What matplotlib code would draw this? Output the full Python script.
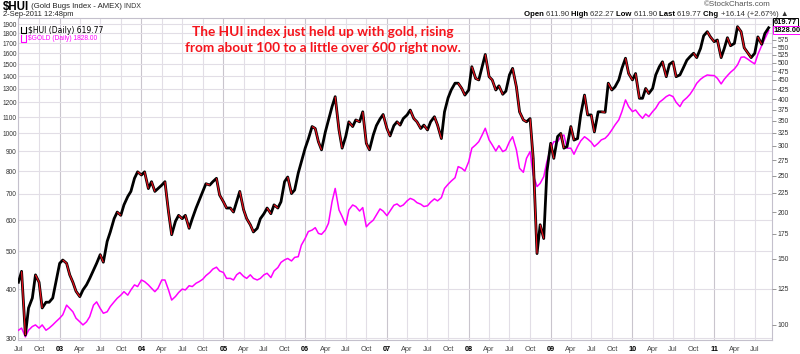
import matplotlib
matplotlib.use("Agg")
import matplotlib.pyplot as plt
import matplotlib.dates as mdates
from matplotlib.collections import LineCollection
from matplotlib.text import Annotation
from matplotlib.ticker import FixedLocator, NullLocator, NullFormatter
import pandas as pd

# ---------------- data (semi-monthly readings, Jul 2002 - Sep 2011) ----------------
start_date = "2002-07-01"
hui = [130, 139, 94, 111, 118, 136, 130, 111, 115, 115, 118, 130, 146, 149, 146, 136, 130, 123, 119, 124,
       128, 133, 140, 146, 154, 147, 167, 177, 192, 200, 196, 209, 220, 227, 246, 256, 251, 256,
       231, 241, 227, 231, 236, 241, 200, 174, 189, 196, 192, 196, 181, 192, 205, 215, 227, 238, 236,
       241, 246, 222, 213, 205, 205, 200, 213, 227, 203, 192, 185, 177, 181, 192, 198, 205, 198,
       209, 205, 213, 241, 248, 224, 229, 254, 272, 296, 313, 338, 334, 308, 293, 327, 352, 382, 406,
       331, 296, 318, 348, 338, 352, 348, 370, 305, 293, 321, 340, 354, 364, 334, 319, 340,
       348, 341, 355, 363, 374, 355, 348, 334, 341, 331, 348, 359, 341, 314, 370, 403, 423, 441, 441,
       427, 410, 423, 488, 454, 450, 488, 526, 459, 450, 423, 434, 412, 420, 464, 483, 431, 370,
       352, 348, 355, 278, 155, 185, 170, 256, 305, 278, 318, 324, 296, 299, 338, 311, 314, 363, 410,
       363, 363, 327, 370, 370, 369, 441, 423, 431, 450, 483, 514, 468, 450, 468, 402, 402,
       427, 414, 427, 464, 488, 503, 459, 495, 503, 459, 464, 483, 508, 519, 530, 516, 546, 590, 605,
       586, 569, 575, 516, 546, 583, 555, 563, 624, 605, 548, 530, 516, 530, 586, 560, 598, 619.77]
gold = [314, 318, 302, 314, 321, 324, 318, 324, 314, 318, 324, 330, 337, 344, 364, 357, 350, 337, 330, 324,
        330, 340, 364, 371, 357, 347, 350, 361, 371, 379, 386, 394, 386, 398, 410, 406, 422, 418,
        410, 402, 394, 402, 422, 422, 398, 375, 383, 392, 400, 398, 408, 406, 414, 418, 424, 433, 441,
        450, 455, 445, 441, 426, 426, 422, 435, 441, 431, 426, 435, 426, 422, 426, 435, 439, 428,
        445, 454, 468, 475, 479, 472, 482, 484, 518, 539, 561, 566, 574, 555, 552, 566, 589, 669, 723,
        637, 613, 583, 637, 656, 650, 633, 646, 577, 589, 600, 619, 641, 633, 616, 633, 655,
        660, 650, 656, 672, 682, 676, 665, 659, 650, 653, 667, 680, 672, 685, 723, 741, 755, 770, 822,
        814, 801, 846, 916, 934, 952, 990, 1030, 962, 934, 901, 930, 898, 907, 952, 980, 907, 814,
        795, 863, 898, 783, 731, 745, 775, 846, 916, 952, 952, 980, 990, 916, 916, 884, 925, 956, 980,
        967, 949, 925, 943, 962, 971, 990, 1020, 1050, 1082, 1136, 1217, 1170, 1136, 1147, 1114, 1092,
        1120, 1103, 1136, 1159, 1200, 1217, 1241, 1253, 1241, 1200, 1170, 1209, 1233, 1258, 1298, 1342,
        1374, 1393, 1409, 1406, 1404, 1382, 1337, 1374, 1404, 1432, 1460, 1495, 1564, 1567, 1545, 1524,
        1504, 1591, 1675, 1742, 1828]
gold_ticks = [300, 400, 500, 600, 700, 800, 900, 1000, 1100, 1200, 1300, 1400, 1500, 1600, 1700, 1800, 1900]
hui_ticks = [100, 125, 150, 175, 200, 225, 250, 275, 300, 325, 350, 375, 400, 425, 450, 475, 500, 525, 550, 575]
x_tick_dates = pd.date_range("2002-07-01", "2011-07-01", freq="QS-JAN")

dates = pd.date_range(start_date, periods=len(hui), freq="SMS")

plt.rcParams["font.family"] = ["Liberation Sans", "DejaVu Sans"]

W, H = 800, 354
fig = plt.figure(figsize=(W / 100, H / 100), dpi=100)
L, R, T, B = 18, 772, 18, 340
ax = fig.add_axes([L / W, 1 - B / H, (R - L) / W, (B - T) / H])

# ---------------- left axis: gold ----------------
ax.set_yscale("log")
ax.set_ylim(296.5, 1970)
ax.set_xlim(pd.Timestamp("2002-06-29"), pd.Timestamp("2011-09-16"))
ax.yaxis.set_major_locator(FixedLocator(gold_ticks))
ax.yaxis.set_minor_locator(NullLocator())
ax.yaxis.set_minor_formatter(NullFormatter())
ax.set_yticklabels([str(v) for v in gold_ticks])
ax.tick_params(axis="y", length=0, pad=1, labelsize=4.7, labelcolor="#333333")
ax.grid(axis="y", color="#e2dee6", lw=0.8)
ax.set_axisbelow(True)

ax.xaxis.set_major_locator(FixedLocator(mdates.date2num(x_tick_dates)))
ax.xaxis.set_minor_locator(NullLocator())
labels = [d.strftime("%y") if d.month == 1 else d.strftime("%b") for d in x_tick_dates]
ax.set_xticklabels(labels)
ax.tick_params(axis="x", length=0, pad=4, labelsize=5.3)
for lab, d in zip(ax.get_xticklabels(), x_tick_dates):
    if d.month == 1:
        lab.set_fontweight("bold")
        lab.set_color("#000000")
    else:
        lab.set_color("#444444")
for d in x_tick_dates:
    ax.axvline(d, color="#c9c5cd" if d.month == 1 else "#e2dee6", lw=0.8, zorder=0)

for s in ax.spines.values():
    s.set_color("#c4c0cc")
    s.set_linewidth(0.8)

ax.plot(dates, gold, color="#ff00ff", lw=1.1, zorder=3)

# ---------------- right axis: HUI ----------------
ax2 = ax.twinx()
ax2.set_yscale("log")
ax2.set_ylim(91.2, 658)
ax2.yaxis.set_major_locator(FixedLocator(hui_ticks))
ax2.yaxis.set_minor_locator(NullLocator())
ax2.yaxis.set_minor_formatter(NullFormatter())
ax2.set_yticklabels([str(v) for v in hui_ticks])
ax2.tick_params(axis="y", length=3, width=0.6, color="#888888", pad=1, labelsize=4.9, labelcolor="#333333")
for s in ax2.spines.values():
    s.set_visible(False)

ax2.plot(dates, hui, color="black", lw=2.0, zorder=3)
xn = mdates.date2num(dates)
segs = []
for i in range(1, len(hui)):
    if hui[i] < hui[i - 1]:
        segs.append([(xn[i - 1], hui[i - 1]), (xn[i], hui[i])])
ax2.add_collection(LineCollection(segs, colors="#e8101c", linewidths=0.9, zorder=4))

# ---------------- legend inside plot ----------------
ax.plot([0.004, 0.004, 0.010, 0.010], [0.972, 0.952, 0.952, 0.972], transform=ax.transAxes,
        color="black", lw=0.8, clip_on=False)
ax.text(0.013, 0.962, "$HUI (Daily) 619.77", transform=ax.transAxes, fontsize=5.5,
        color="black", va="center", ha="left", family=["DejaVu Sans"])
ax.plot([0.004, 0.004, 0.010, 0.010], [0.946, 0.926, 0.926, 0.946], transform=ax.transAxes,
        color="#ff00ff", lw=0.8, clip_on=False)
ax.text(0.013, 0.936, "$GOLD (Daily) 1828.00", transform=ax.transAxes, fontsize=4.8,
        color="#ff00ff", va="center", ha="left")

# ---------------- right value boxes ----------------
fig.text(774 / W, 1 - 22 / H, "619.77", fontsize=5.4, fontweight="bold", color="black",
         va="center", ha="left",
         bbox=dict(boxstyle="square,pad=0.12", fc="white", ec="black", lw=0.7))
fig.text(774 / W, 1 - 30 / H, "1828.00", fontsize=5.4, fontweight="bold", color="black",
         va="center", ha="left",
         bbox=dict(boxstyle="square,pad=0.12", fc="white", ec="#ff00ff", lw=0.7))


def chain(first_text, pieces):
    prev = first_text
    for txt, kw in pieces:
        a = Annotation(txt, xy=(1, 0.5), xycoords=prev, va="center", ha="left", **kw)
        fig.add_artist(a)
        prev = a
    return prev


# ---------------- header ----------------
t1 = fig.text(3 / W, 1 - 7 / H, "$HUI", fontsize=8.3, fontweight="bold", va="center", ha="left")
chain(t1, [(" (Gold Bugs Index - AMEX)", dict(fontsize=5.6, color="#222222")),
           (" INDX", dict(fontsize=5.0, color="#333333"))])
fig.text(3 / W, 1 - 15 / H, "2-Sep-2011 12:48pm", fontsize=5.4, va="center", ha="left", color="#222222")
fig.text(771 / W, 1 - 5 / H, "\u00a9StockCharts.com", fontsize=5.8, va="center", ha="right", color="#555555")

parts = [("Open ", True), ("611.90 ", False), ("High ", True), ("622.27 ", False), ("Low ", True),
         ("611.90 ", False), ("Last ", True), ("619.77 ", False), ("Chg ", True),
         ("+16.14 (+2.67%) \u25b2", False)]
base = fig.text(524 / W, 1 - 14.5 / H, parts[0][0], fontsize=5.6, va="center", ha="left",
                fontweight="bold", color="#000000")
chain(base, [(txt, dict(fontsize=5.6, fontweight="bold" if b else "normal",
                        color="#000000" if b else "#333333")) for txt, b in parts[1:]])

# ---------------- red annotation ----------------
fig.text(323 / W, 1 - 32 / H, "The HUI index just held up with gold, rising", fontsize=9.8,
         fontweight="bold", color="#f5141c", ha="center", va="center", family=["Lato", "DejaVu Sans"])
fig.text(323 / W, 1 - 48 / H, "from about 100 to a little over 600 right now.", fontsize=9.8,
         fontweight="bold", color="#f5141c", ha="center", va="center", family=["Lato", "DejaVu Sans"])

fig.savefig("out.png", dpi=100, facecolor="white")
